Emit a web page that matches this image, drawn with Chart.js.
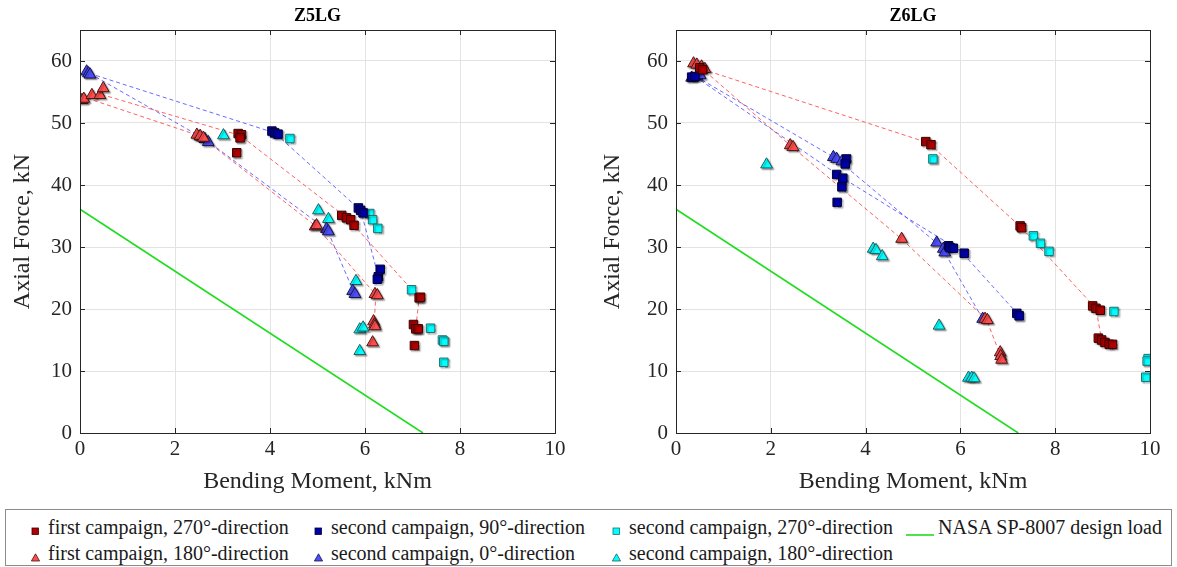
<!DOCTYPE html>
<html>
<head>
<meta charset="utf-8">
<script src="https://cdn.jsdelivr.net/npm/chart.js@4"></script>
<style>
    body { margin: 0; background: #fff; width: 1177px; height: 567px; overflow: hidden; position: relative;
           font-family: "Liberation Serif", "Times New Roman", "DejaVu Serif", serif; color: #1a1a1a; }
    #z5 { position: absolute; left: 0; top: 0; }
    #z6 { position: absolute; left: 588px; top: 0; }
    #legend { position: absolute; left: 5px; top: 509px; width: 1165px; height: 55px; border: 1px solid #8c8c8c; background: #fff; }
    .item { position: absolute; font-size: 20px; line-height: 20px; white-space: nowrap;
            font-family: "Liberation Serif", "Times New Roman", serif; }
    .mark { position: absolute; }
</style>
</head>
<body>
<canvas id="z5" width="588" height="500"></canvas>
<canvas id="z6" width="589" height="500"></canvas>
<div id="legend"></div>

<script>
// axis ticks
const xTickValues = [0, 2, 4, 6, 8, 10];
const yTickValues = [0, 10, 20, 30, 40, 50, 60];

// ---- Z5LG : [bending moment kNm, axial force kN] ----
const z5First270 = [[3.33,48.3],[3.40,48.1],[3.37,47.6],[3.30,45.2],[5.51,35.1],[5.61,34.7],[5.70,34.4],[5.77,33.5],
                    [7.14,21.8],[7.17,21.9],[7.02,17.5],[7.07,16.8],[7.12,16.8],[7.04,14.1]];
const z5First180 = [[0.04,53.7],[0.08,53.9],[0.25,54.5],[0.42,54.5],[0.49,55.6],[2.46,48.1],[2.53,47.9],[2.60,47.6],
                    [4.95,33.3],[4.98,33.5],[6.21,22.4],[6.26,22.2],[6.18,18.0],[6.20,17.5],[6.21,17.2],[6.16,14.6]];
const z5Second90 = [[4.04,48.7],[4.10,48.4],[4.17,48.2],[5.86,36.3],[5.91,35.9],[5.96,35.5],[6.32,26.4],[6.28,25.2],[6.26,24.8]];
const z5Second0 = [[0.14,58.3],[0.18,58.0],[0.21,57.8],[2.53,47.8],[2.63,47.4],[2.70,46.9],[5.19,32.9],[5.23,32.5],[5.74,22.9],[5.79,22.4]];
const z5Second270 = [[4.42,47.5],[6.10,35.4],[6.16,34.4],[6.27,33.0],[6.98,23.1],[7.38,16.9],[7.63,15.0],[7.66,14.8],[7.66,11.4]];
const z5Second180 = [[3.02,48.0],[5.02,35.9],[5.23,34.5],[5.81,24.5],[5.89,16.7],[5.96,17.0],[5.89,13.2]];
// dashed trend paths
const z5Path270 = [[0.45,54.6],[3.37,48.0],[5.65,34.5],[7.14,21.8],[7.07,17.0]];
const z5Path180 = [[0.15,54.0],[2.53,47.9],[4.96,33.4],[6.23,22.3],[6.19,17.5]];
const z5Path90 = [[0.20,58.0],[4.10,48.4],[5.91,35.9],[6.28,25.3]];
const z5Path0 = [[0.20,58.0],[2.63,47.4],[5.21,32.7],[5.77,22.6]];

// ---- Z6LG ----
const z6First270 = [[0.50,58.9],[0.56,58.6],[5.27,47.0],[5.38,46.5],[7.26,33.4],[7.29,33.1],[8.79,20.5],[8.86,20.1],[8.95,19.8],
                    [8.91,15.3],[8.98,15.0],[9.05,14.6],[9.14,14.3],[9.21,14.3]];
const z6First180 = [[0.37,59.6],[0.44,59.4],[0.54,59.1],[0.61,58.7],[2.41,46.4],[2.47,46.1],[4.76,31.3],[6.52,18.4],[6.57,18.2],
                    [6.84,13.0],[6.85,12.4],[6.87,11.8]];
const z6Second90 = [[0.33,57.4],[0.40,57.5],[3.60,44.2],[3.57,43.4],[3.39,41.7],[3.52,41.1],[3.50,39.7],[3.40,37.2],
                    [5.75,30.2],[5.78,29.9],[5.85,29.8],[6.08,29.0],[7.19,19.3],[7.24,18.9]];
const z6Second0 = [[0.33,57.3],[0.44,57.5],[0.51,57.7],[3.32,44.5],[3.39,44.2],[3.50,43.8],[5.50,30.7],[5.64,29.7],[5.67,29.1],[6.47,18.4]];
const z6Second270 = [[5.42,44.2],[7.54,31.8],[7.69,30.6],[7.87,29.3],[9.24,19.6],[9.96,12.0],[9.94,11.6],[9.91,9.0]];
const z6Second180 = [[1.91,43.3],[4.16,29.7],[4.22,29.5],[4.35,28.5],[5.55,17.3],[6.17,8.9],[6.24,8.9],[6.29,8.8]];
const z6Path270 = [[0.55,58.7],[5.32,46.8],[7.28,33.2],[8.86,20.1],[8.98,15.0]];
const z6Path180 = [[0.50,59.1],[2.44,46.2],[4.76,31.3],[6.55,18.3],[6.85,12.4]];
const z6Path90 = [[0.40,57.5],[3.50,41.2],[6.00,29.4],[7.22,19.1]];
const z6Path0 = [[0.42,57.5],[3.39,44.2],[5.60,30.0],[6.47,18.4]];

// NASA SP-8007 design load (same for both)
const nasaLine = [[0, 36.1], [7.22, 0]];

const legendLabels = [
    'first campaign, 270°-direction', 'first campaign, 180°-direction',
    'second campaign, 90°-direction', 'second campaign, 0°-direction',
    'second campaign, 270°-direction', 'second campaign, 180°-direction',
    'NASA SP-8007 design load'
];

// marker styles
const styles = {
    first270:  { shape: 'rect', fill: '#b00000', edge: '#3a0000' },
    first180:  { shape: 'triangle', fill: '#ff4d4d', edge: '#4a1515' },
    second90:  { shape: 'rect', fill: '#0000a6', edge: '#00003a' },
    second0:   { shape: 'triangle', fill: '#4d4dff', edge: '#15154a' },
    second270: { shape: 'rect', fill: '#00ffff', edge: '#1f6f6f' },
    second180: { shape: 'triangle', fill: '#00ffff', edge: '#1f5f5f' }
};

const serif = '"Liberation Serif", "Times New Roman", serif';
Chart.defaults.font.family = serif;
Chart.defaults.color = '#262626';

const toXY = arr => arr.map(p => ({ x: p[0], y: p[1] }));

function pointSet(data, st) {
    return {
        data: toXY(data),
        pointStyle: st.shape,
        pointRadius: st.shape === 'rect' ? 6 : 6.8,
        pointBackgroundColor: st.fill,
        pointBorderColor: st.edge,
        pointBorderWidth: 1,
        showLine: false,
        order: 1,
        isMarker: true
    };
}

function pathSet(data, color) {
    return {
        data: toXY(data),
        showLine: true,
        borderColor: color,
        borderWidth: 1,
        borderDash: [4, 3],
        pointRadius: 0,
        order: 3
    };
}

// box, inward ticks, title and marker shadows
const framePlugin = {
    id: 'frame',
    beforeDatasetDraw(chart, args) {
        if (chart.data.datasets[args.index].isMarker) {
            const ctx = chart.ctx;
            ctx.save();
            ctx.shadowColor = 'rgba(0,0,0,0.35)';
            ctx.shadowOffsetX = 1.5;
            ctx.shadowOffsetY = 1.5;
            ctx.shadowBlur = 1.5;
        }
    },
    afterDatasetDraw(chart, args) {
        if (chart.data.datasets[args.index].isMarker) chart.ctx.restore();
    },
    afterDraw(chart) {
        const { ctx, chartArea: a, scales } = chart;
        ctx.save();
        ctx.strokeStyle = '#262626';
        ctx.lineWidth = 1;
        ctx.strokeRect(a.left + 0.5, a.top + 0.5, a.right - a.left, a.bottom - a.top);
        ctx.beginPath();
        xTickValues.forEach(v => {
            const px = Math.round(scales.x.getPixelForValue(v)) + 0.5;
            ctx.moveTo(px, a.bottom); ctx.lineTo(px, a.bottom - 5);
            ctx.moveTo(px, a.top); ctx.lineTo(px, a.top + 5);
        });
        yTickValues.forEach(v => {
            const py = Math.round(scales.y.getPixelForValue(v)) + 0.5;
            ctx.moveTo(a.left, py); ctx.lineTo(a.left + 5, py);
            ctx.moveTo(a.right, py); ctx.lineTo(a.right - 5, py);
        });
        ctx.stroke();
        ctx.fillStyle = '#000';
        ctx.font = 'bold 18px ' + serif;
        ctx.textAlign = 'center';
        ctx.textBaseline = 'middle';
        ctx.fillText(chart.options.plugins.frame.title, (a.left + a.right) / 2, 16);
        ctx.restore();
    }
};

function makeChart(id, title, sets, axisWidth, padRight, titlePad) {
    const datasets = [
        pointSet(sets.first270, styles.first270),
        pointSet(sets.first180, styles.first180),
        pointSet(sets.second90, styles.second90),
        pointSet(sets.second0, styles.second0),
        pointSet(sets.second270, styles.second270),
        pointSet(sets.second180, styles.second180),
        { data: toXY(nasaLine), showLine: true, borderColor: '#1fdc1f', borderWidth: 1.6, pointRadius: 0, order: 2 },
        pathSet(sets.path270, 'rgba(255,80,80,0.9)'),
        pathSet(sets.path180, 'rgba(255,80,80,0.9)'),
        pathSet(sets.path90, 'rgba(90,90,255,0.9)'),
        pathSet(sets.path0, 'rgba(90,90,255,0.9)')
    ];

    return new Chart(id, {
        type: 'scatter',
        data: { datasets: datasets },
        options: {
            responsive: false,
            animation: false,
            layout: { padding: { top: 30, right: padRight, left: 0, bottom: 0 } },
            scales: {
                x: {
                    min: 0, max: 10,
                    afterBuildTicks: s => { s.ticks = xTickValues.map(v => ({ value: v })); },
                    afterFit: s => { s.height = 67; },
                    grid: { color: '#e3e3e3', drawTicks: false },
                    border: { display: false },
                    ticks: { font: { family: serif, size: 21 }, padding: 4, color: '#262626', maxRotation: 0 },
                    title: { display: true, text: 'Bending Moment, kNm', font: { family: serif, size: 24 }, color: '#262626', padding: { top: 0, bottom: 4 } }
                },
                y: {
                    min: 0, max: 65,
                    afterBuildTicks: s => { s.ticks = yTickValues.map(v => ({ value: v })); },
                    afterFit: s => { s.width = axisWidth; },
                    grid: { color: '#e3e3e3', drawTicks: false },
                    border: { display: false },
                    ticks: { font: { family: serif, size: 21 }, padding: 8, color: '#262626' },
                    title: { display: true, text: 'Axial Force, kN', font: { family: serif, size: 24 }, color: '#262626', padding: { top: titlePad, bottom: 0 } }
                }
            },
            plugins: {
                legend: { display: false },
                tooltip: { enabled: false },
                frame: { title: title }
            }
        },
        plugins: [framePlugin]
    });
}

makeChart('z5', 'Z5LG', {
    first270: z5First270, first180: z5First180, second90: z5Second90, second0: z5Second0,
    second270: z5Second270, second180: z5Second180,
    path270: z5Path270, path180: z5Path180, path90: z5Path90, path0: z5Path0
}, 80, 33, 8);

makeChart('z6', 'Z6LG', {
    first270: z6First270, first180: z6First180, second90: z6Second90, second0: z6Second0,
    second270: z6Second270, second180: z6Second180,
    path270: z6Path270, path180: z6Path180, path90: z6Path90, path0: z6Path0
}, 88, 27, 10);

// ---- legend (HTML) ----
const legend = document.getElementById('legend');
const legendKeys = ['first270', 'first180', 'second90', 'second0', 'second270', 'second180', 'nasa'];
const legendPos = [[25, 17], [25, 43], [308, 17], [308, 43], [606, 17], [606, 43], [900, 17]];

function markerSvg(key) {
    if (key === 'nasa') {
        return '<svg width="28" height="6"><line x1="0" y1="3" x2="28" y2="3" stroke="#1fdc1f" stroke-width="1.6"/></svg>';
    }
    const st = styles[key];
    if (st.shape === 'rect') {
        return '<svg width="9" height="9"><rect x="1" y="1" width="6.5" height="6.5" fill="' + st.fill + '" stroke="' + st.edge + '" stroke-width="0.8"/></svg>';
    }
    return '<svg width="10" height="9"><polygon points="4.5,0.8 8.6,8 0.4,8" fill="' + st.fill + '" stroke="' + st.edge + '" stroke-width="0.8"/></svg>';
}

legendKeys.forEach((key, i) => {
    const [x, y] = legendPos[i];
    const mark = document.createElement('div');
    mark.className = 'mark';
    mark.innerHTML = markerSvg(key);
    const isLine = key === 'nasa';
    mark.style.left = x + 'px';
    mark.style.top = (y - (isLine ? 3 : 5)) + 'px';
    legend.appendChild(mark);

    const item = document.createElement('div');
    item.className = 'item';
    item.textContent = legendLabels[i];
    item.style.left = (x + (isLine ? 32 : 17)) + 'px';
    item.style.top = (y - 10) + 'px';
    legend.appendChild(item);
});
</script>
</body>
</html>
